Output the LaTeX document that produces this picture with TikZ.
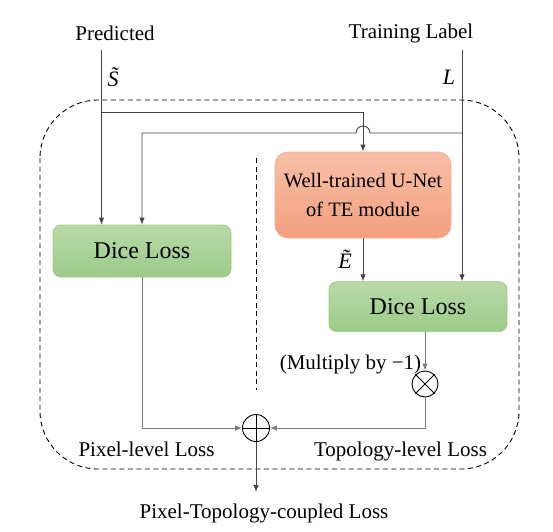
\documentclass[tikz,border=0pt]{standalone}
\usepackage{fontspec}
\setmainfont{Liberation Serif}
\usetikzlibrary{arrows.meta}
\definecolor{lineC}{HTML}{454545}
\definecolor{lineG}{HTML}{7A7A7A}
\definecolor{grTop}{HTML}{B8DAA9}
\definecolor{grBot}{HTML}{9CCB88}
\definecolor{grBd}{HTML}{9CC98B}
\definecolor{orTop}{HTML}{F8BFA6}
\definecolor{orBot}{HTML}{F4A07F}
\definecolor{orBd}{HTML}{F2AE90}
\tikzset{
  lbl/.style={font=\fontsize{21}{25}\selectfont, inner sep=0pt},
  mlbl/.style={font=\fontsize{22}{26}\selectfont\itshape, inner sep=0pt},
  dicebox/.style={draw=grBd, line width=0.8pt, rounded corners=8pt, top color=grTop, bottom color=grBot,
    minimum width=178pt, inner sep=0pt, font=\fontsize{24}{28}\selectfont},
  unetbox/.style={draw=orBd, line width=0.8pt, rounded corners=13pt, top color=orTop, bottom color=orBot,
    minimum width=176pt, minimum height=86pt, inner sep=0pt, align=center, font=\fontsize{20.5}{29}\selectfont},
  opnode/.style={draw=black, line width=0.9pt, circle, minimum size=26pt, inner sep=0pt},
  conn/.style={draw=lineC, line width=0.9pt},
  conng/.style={draw=lineG, line width=0.9pt},
  arr/.style={-{Latex[length=7pt,width=5.5pt]}},
}
\begin{document}
\begin{tikzpicture}[x=1pt,y=-1pt]
\useasboundingbox (0,0) rectangle (553,531);
% frame
\draw[black, line width=0.9pt, dash pattern=on 5pt off 3.5pt, rounded corners=58pt] (40,100) rectangle (519,469);
\draw[black, line width=0.9pt, dash pattern=on 5pt off 3.5pt] (256,158) -- (256,390);

% texts
\node[lbl] (pred) at (115,33) {Predicted};
\node[lbl] (train) at (411,33) {Training Label};
\node[mlbl] (slab) at (113,77) {\~{S}};
\node[mlbl] (llab) at (449,77) {L};
\node[mlbl] (elab) at (345,259) {\~{E}};
\node[lbl] (mult) at (350.5,364) {(Multiply by −1)};
\node[lbl] (pll) at (146.5,449) {Pixel-level Loss};
\node[lbl] (tll) at (400.5,451) {Topology-level Loss};
\node[lbl] (out) at (264,513) {Pixel-Topology-coupled Loss};

% boxes
\node[dicebox, minimum height=52pt] (d1) at (142,251) {Dice Loss};
\node[unetbox] (un) at (363,195) {Well-trained U-Net\\of TE module};
\node[dicebox, minimum height=50pt] (d2) at (418,306.7) {Dice Loss};
\node[opnode] (ot) at (425,384) {};
\draw[line width=0.9pt] (ot.north west) -- (ot.south east) (ot.north east) -- (ot.south west);
\node[opnode, minimum size=27pt] (op) at (256,428) {};
\draw[line width=0.9pt] (op.north) -- (op.south) (op.west) -- (op.east);

% coordinates
\coordinate (ps) at (101.5,50);
\coordinate (ls) at (462,50);
\coordinate (sj) at (101.5,112);
\coordinate (lj) at (462,133);
\coordinate (oe) at (256,492);

% connectors
\draw[conn, arr] (ps) -- (ps |- d1.north);
\draw[conn, arr] (sj) -| (un.north);
\draw[conn, arr] (ls) -- (ls |- d2.north);
\draw[conn, arr] (lj) -- (370,133) arc[start angle=0, end angle=-180, radius=7] -- (d1.north |- lj) -- (d1.north);
\draw[conn, arr] (un.south) -- (un.south |- d2.north);
\draw[conng, arr] (ot |- d2.south) -- (ot.north);
\draw[conng, arr] (ot.south) |- (op.east);
\draw[conng, arr] (d1.south) |- (op.west);
\draw[conn, arr] (op.south) -- (oe);
\end{tikzpicture}
\end{document}
